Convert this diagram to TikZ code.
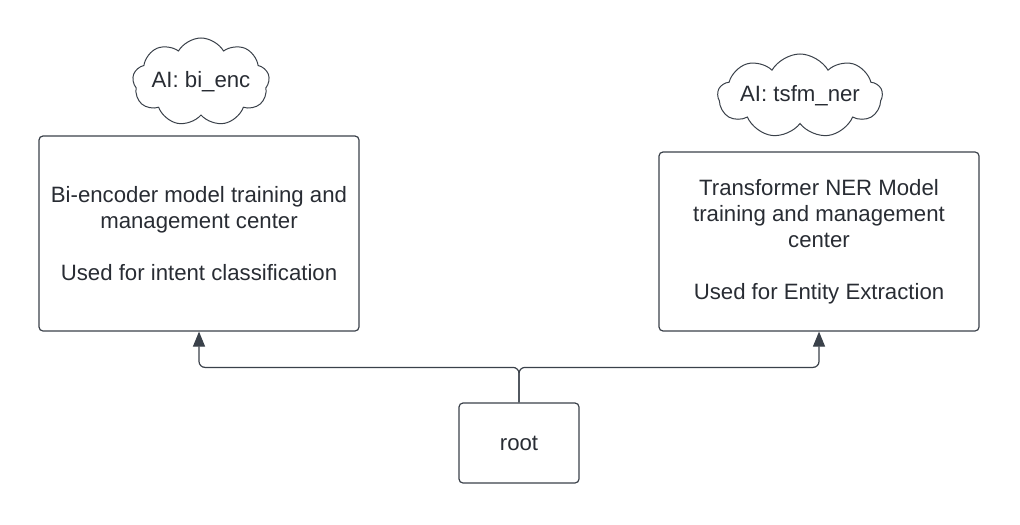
\documentclass[tikz,border=0pt]{standalone}
\usepackage{fontspec}
\setmainfont{Liberation Sans}
\usetikzlibrary{arrows.meta}
\usetikzlibrary{shapes.symbols}
\usetikzlibrary{calc}
\definecolor{inkline}{HTML}{3A414A}
\definecolor{inktext}{HTML}{282C33}

\begin{document}
\begin{tikzpicture}[
        x=0.5pt, y=-0.5pt,
        model box/.style={draw=inkline, line width=0.6pt, rounded corners=2pt,
            align=center, text=inktext, font=\fontsize{11.1}{13}\selectfont,
            inner sep=0pt},
        ai cloud/.style={cloud, draw=inkline, line width=0.5pt, cloud puffs=9,
            cloud puff arc=120, cloud ignores aspect, text=inktext,
            font=\fontsize{11.1}{13}\selectfont, inner sep=0pt},
        link line/.style={draw=inkline, line width=0.6pt, rounded corners=3pt,
            -{Triangle[length=7.5pt, width=6pt]}},
        every node/.style={color=inktext}
        ]
        \useasboundingbox (0,0) rectangle (1020,524);

        % boxes
        \node[model box, minimum width=160pt, minimum height=97.5pt] (biEnc) at (199,233.5)
            {Bi-encoder model training and\\management center\\[13pt]Used for intent classification};
        \node[model box, minimum width=160pt, minimum height=89.5pt] (tsfmNer) at (819,241.5)
            {Transformer NER Model\\training and management\\center\\[13pt]Used for Entity Extraction};
        \node[model box, minimum width=60pt, minimum height=40pt] (root) at (519,443) {root};

        % clouds
        \node[ai cloud, minimum width=63pt, minimum height=44pt] (cloudBi) at (201,82) {AI: bi\_enc};
        \node[ai cloud, minimum width=66pt, minimum height=42pt] (cloudNer) at (800,96) {AI: tsfm\_ner};

        % links
        \coordinate (split) at ($(root.north)+(0,-35)$);
        \draw[link line] (root.north) -- (split) -| (biEnc.south);
        \draw[link line] (root.north) -- (split) -| (tsfmNer.south);

    \end{tikzpicture}
\end{document}
